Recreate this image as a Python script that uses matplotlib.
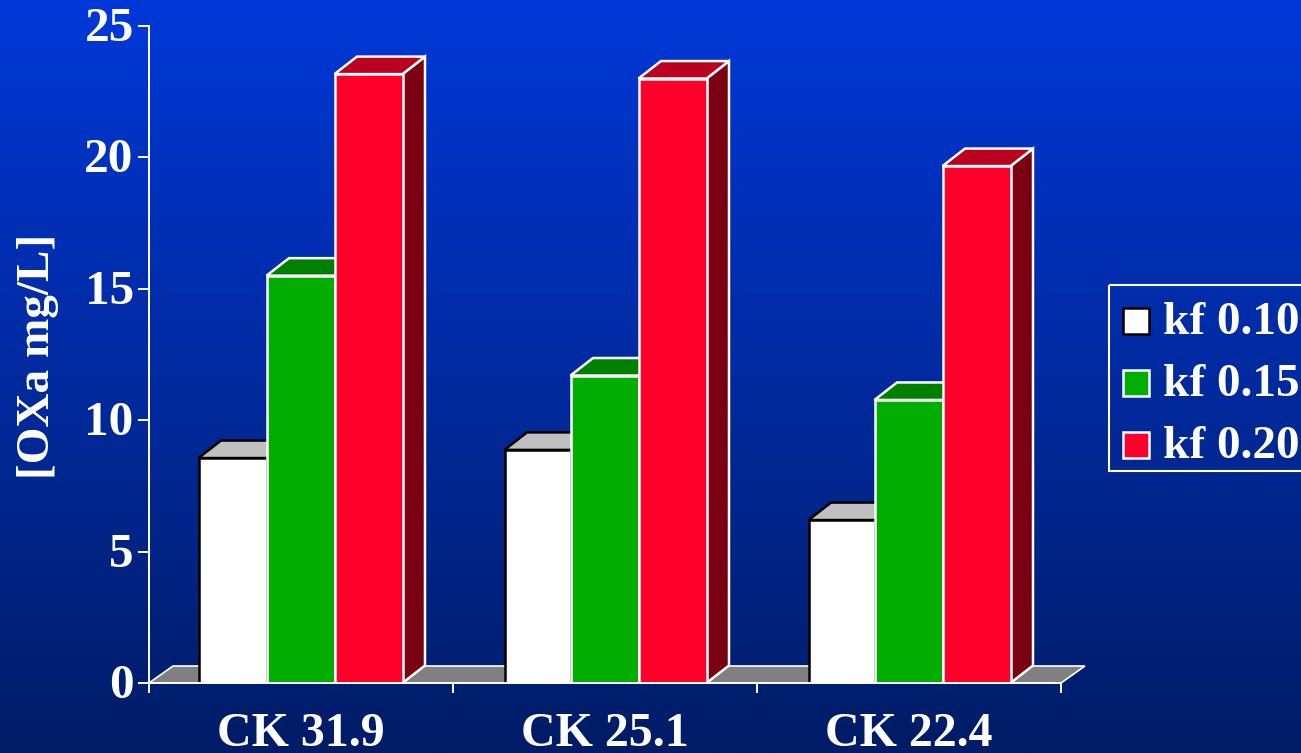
import numpy as np
import matplotlib
matplotlib.use('Agg')
import matplotlib.pyplot as plt
from matplotlib.patches import Polygon, Rectangle
from matplotlib.transforms import ScaledTranslation

# OXa concentration per CK level and kf value
categories = ['CK 31.9', 'CK 25.1', 'CK 22.4']
series_names = ['kf 0.10', 'kf 0.15', 'kf 0.20']
kf_010 = [8.56, 8.87, 6.2]
kf_015 = [15.5, 11.7, 10.77]
kf_020 = [23.17, 23.0, 19.67]
y_ticks = [0, 5, 10, 15, 20, 25]

W, H = 1301, 753
plt.rcParams['font.family'] = ['Liberation Serif', 'DejaVu Serif']
plt.rcParams['font.weight'] = 'bold'

fig = plt.figure(figsize=(W / 100, H / 100), dpi=100)

####Background gradient, also used as a pixel canvas for the legend
bg = fig.add_axes([0, 0, 1, 1])
top = np.array([0, 56, 216]) / 255
bottom = np.array([0, 28, 102]) / 255
t = np.linspace(0, 1, 256)[:, None, None]
bg.imshow(top + (bottom - top) * t, aspect='auto', extent=[0, W, H, 0])
bg.set_xlim(0, W)
bg.set_ylim(H, 0)
bg.axis('off')

####Main axes
x0, x1, y0, y1 = 149, 1061, 683, 26
ax = fig.add_axes([x0 / W, 1 - y0 / H, (x1 - x0) / W, (y0 - y1) / H])
ax.patch.set_alpha(0)
ax.set_xlim(0, 3)
ax.set_ylim(0, 25)

xpx = 3 / (x1 - x0)     # data units per pixel
ypx = 25 / (y0 - y1)
dx, dy = 22.5 * xpx, 17.5 * ypx
bar_w = 68 * xpx
first_offset = 49.5 * xpx

# floor behind the bars
ax.add_patch(Polygon([(0, 0), (24 * xpx, 17 * ypx), (3 + 24 * xpx, 17 * ypx), (3, 0)], closed=True,
                     facecolor='#808080', edgecolor='white', lw=1.2, zorder=1, clip_on=False))

styles = [
    ('white', '#c0c0c0', '#808080', 'black'),
    ('#00ad00', '#008000', '#005500', 'white'),
    ('#ff002b', '#bb001f', '#7c0014', 'white'),
]
all_series = [kf_010, kf_015, kf_020]

for i in range(3):
    for s in range(3):
        v = all_series[s][i]
        front, lid, side, edge = styles[s]
        left = i + first_offset + s * bar_w
        width = bar_w
        # white bars of the later groups come out a little narrower
        if s == 0 and i > 0:
            left += 2 * xpx
            width -= 2 * xpx
        right = left + width
        z = 3 + s
        # side and lid first so the front face sits on top of them
        if s == 2:
            ax.add_patch(Polygon([(right, 0), (right + dx, dy), (right + dx, v + dy), (right, v)],
                                 closed=True, facecolor=side, edgecolor=edge, lw=1.8, zorder=z))
        ax.add_patch(Polygon([(left, v), (left + dx, v + dy), (right + dx, v + dy), (right, v)],
                             closed=True, facecolor=lid, edgecolor=edge, lw=1.8, zorder=z))
        ax.bar(left, v, width=width, align='edge', color=front, edgecolor=edge, lw=1.8, zorder=z + 0.5)

####Axis styling
for name in ['top', 'right']:
    ax.spines[name].set_visible(False)
for name in ['left', 'bottom']:
    ax.spines[name].set_color('white')
    ax.spines[name].set_linewidth(1.4)
    ax.spines[name].set_zorder(8)
ax.set_xticks([0, 1, 2, 3])
ax.set_xticklabels([])
ax.set_xticks([0.5, 1.5, 2.5], categories, minor=True)
ax.tick_params(axis='x', which='major', color='white', width=1.4, length=7, direction='out')
ax.tick_params(axis='x', which='minor', length=0, colors='white', labelsize=34.5, pad=21)
ax.set_yticks(y_ticks)
ax.tick_params(axis='y', color='white', width=1.4, length=8, labelcolor='white', labelsize=35.5, pad=3)
# nudge the y numbers up so they sit centred on their ticks
for lab in ax.get_yticklabels():
    lab.set_transform(lab.get_transform() + ScaledTranslation(0, 2 / 100, fig.dpi_scale_trans))
ax.set_ylabel('[OXa mg/L]', color='white', fontsize=34, fontweight='bold', va='center')
ax.yaxis.set_label_coords(-(149 - 38) / (x1 - x0), (683 - 356) / (y0 - y1))

####Legend box, runs off the right edge
bg.add_patch(Rectangle((1108.5, 285), 220, 186, facecolor='none', edgecolor='white', lw=1.5, clip_on=True))
key_rows = [321, 383, 445]
for name, row, st in zip(series_names, key_rows, styles):
    bg.add_patch(Rectangle((1123, row - 13), 26, 26, facecolor=st[0], edgecolor=st[3], lw=1.8))
    bg.text(1163, row + 2, name, color='white', fontsize=34, fontweight='bold', va='center', ha='left')

fig.savefig('out.png', dpi=100)
